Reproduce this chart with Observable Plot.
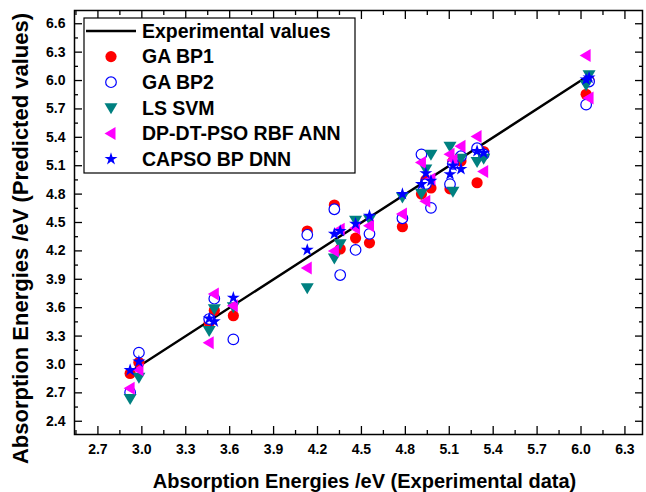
<!DOCTYPE html>
<html><head><meta charset="utf-8">
<script src="https://cdn.jsdelivr.net/npm/d3@7"></script>
<script src="https://cdn.jsdelivr.net/npm/@observablehq/plot@0.6"></script>
<style>body{margin:0;background:#fff;} #chart{width:646px;height:492px;}</style>
</head><body><div id="chart"></div>
<script>
// Experimental absorption energies (eV) and model predictions
const experimental = [2.92, 2.98, 3.46, 3.495, 3.625, 4.13, 4.315, 4.355, 4.46, 4.555, 4.78, 4.91, 4.94, 4.975, 5.105, 5.125, 5.18, 5.29, 5.335, 6.035, 6.055];
const gaBP1  = [2.905, 3.02, 3.44, 3.57, 3.515, 4.41, 4.685, 4.22, 4.335, 4.285, 4.455, 4.80, 4.95, 4.865, 4.855, 5.145, 5.15, 4.92, 5.25, 5.855, 6.00];
const gaBP2  = [2.705, 3.125, 3.48, 3.695, 3.265, 4.37, 4.64, 3.945, 4.21, 4.38, 4.545, 5.22, 4.905, 4.655, 4.905, 5.12, 5.20, 5.285, 5.22, 5.745, 5.99];
const lsSVM  = [2.64, 2.865, 3.36, 3.59, 3.61, 3.81, 4.125, 4.275, 4.525, 4.535, 4.77, 4.81, 5.065, 5.22, 5.305, 4.83, 5.18, 5.145, 5.18, 5.955, 6.06];
const dpRBF  = [2.75, 2.945, 3.23, 3.745, 3.62, 4.02, 4.20, 4.43, 4.44, 4.465, 4.59, 5.135, 4.725, 4.96, 5.22, 5.16, 5.305, 5.41, 5.04, 6.265, 5.815];
const capso  = [2.94, 3.03, 3.485, 3.455, 3.705, 4.21, 4.38, 4.41, 4.485, 4.57, 4.80, 4.905, 5.02, 4.94, 5.01, 5.10, 5.065, 5.255, 5.235, 6.01, 6.03];
const xTicks = [2.7, 3.0, 3.3, 3.6, 3.9, 4.2, 4.5, 4.8, 5.1, 5.4, 5.7, 6.0, 6.3];
const yTicks = [2.4, 2.7, 3.0, 3.3, 3.6, 3.9, 4.2, 4.5, 4.8, 5.1, 5.4, 5.7, 6.0, 6.3, 6.6];
const seriesNames = ["Experimental values", "GA BP1", "GA BP2", "LS SVM", "DP-DT-PSO RBF ANN", "CAPSO BP DNN"];

const xDomain = [2.54, 6.42];
const yDomain = [2.26, 6.74];
const xMinor = xTicks.map(t => t - 0.15).concat([6.45]).filter(t => t > xDomain[0] && t < xDomain[1]);
const yMinor = yTicks.map(t => t - 0.15).concat([6.75]).filter(t => t > yDomain[0] && t < yDomain[1]);

const downTri = {draw(ctx) { ctx.moveTo(-6.5, -4.5); ctx.lineTo(6.5, -4.5); ctx.lineTo(0, 6.5); ctx.closePath(); }};
const leftTri = {draw(ctx) { ctx.moveTo(-6.5, 0); ctx.lineTo(4.5, -6.5); ctx.lineTo(4.5, 6.5); ctx.closePath(); }};
const star5 = {draw(ctx) { d3.symbolStar.draw(ctx, 52); }};

const idx = d3.range(experimental.length);
const expLine = [d3.min(experimental), d3.max(experimental)];
const font = "'Liberation Sans', Arial, sans-serif";

const plot = Plot.plot({
  width: 646, height: 492,
  marginLeft: 74, marginRight: 4, marginTop: 10, marginBottom: 58,
  style: {fontFamily: font, fontWeight: "bold", fontSize: "14px", background: "white", overflow: "visible"},
  x: {domain: xDomain},
  y: {domain: yDomain},
  marks: [
    Plot.line(expLine, {x: d => d, y: d => d, stroke: "black", strokeWidth: 2.4}),
    Plot.dot(idx, {x: i => experimental[i], y: i => gaBP1[i], r: 5.6, symbol: "circle", fill: "#ff0000"}),
    Plot.dot(idx, {x: i => experimental[i], y: i => gaBP2[i], r: 5.3, symbol: "circle", fill: "white", stroke: "#0000ff", strokeWidth: 1.2}),
    Plot.dot(idx, {x: i => experimental[i], y: i => lsSVM[i], r: 6, symbol: downTri, fill: "#008080"}),
    Plot.dot(idx, {x: i => experimental[i], y: i => dpRBF[i], r: 6, symbol: leftTri, fill: "#ff00ff"}),
    Plot.dot(idx, {x: i => experimental[i], y: i => capso[i], r: 6, symbol: star5, fill: "#0000ff"}),
    Plot.frame({stroke: "black", strokeWidth: 1.5}),
    // inward ticks
    Plot.axisX({anchor: "bottom", ticks: xTicks, tickSize: 8, dy: -8, tickFormat: () => "", label: null, strokeWidth: 1.3}),
    Plot.axisX({anchor: "bottom", ticks: xMinor, tickSize: 4, dy: -4, tickFormat: () => "", label: null, strokeWidth: 1.3}),
    Plot.axisX({anchor: "top", ticks: xTicks, tickSize: 8, dy: 8, tickFormat: () => "", label: null, strokeWidth: 1.3}),
    Plot.axisX({anchor: "top", ticks: xMinor, tickSize: 4, dy: 4, tickFormat: () => "", label: null, strokeWidth: 1.3}),
    Plot.axisY({anchor: "left", ticks: yTicks, tickSize: 8, dx: 8, tickFormat: () => "", label: null, strokeWidth: 1.3}),
    Plot.axisY({anchor: "left", ticks: yMinor, tickSize: 4, dx: 4, tickFormat: () => "", label: null, strokeWidth: 1.3}),
    Plot.axisY({anchor: "right", ticks: yTicks, tickSize: 8, dx: -8, tickFormat: () => "", label: null, strokeWidth: 1.3}),
    Plot.axisY({anchor: "right", ticks: yMinor, tickSize: 4, dx: -4, tickFormat: () => "", label: null, strokeWidth: 1.3}),
    // tick labels
    Plot.axisX({anchor: "bottom", ticks: xTicks, tickSize: 0, tickPadding: 10, tickFormat: d3.format(".1f"), label: null, fontSize: 14, fontWeight: "bold"}),
    Plot.axisY({anchor: "left", ticks: yTicks, tickSize: 0, tickPadding: 9, tickFormat: d3.format(".1f"), label: null, fontSize: 14, fontWeight: "bold"}),
    // axis titles
    Plot.text(["Absorption Energies /eV (Experimental data)"], {frameAnchor: "bottom", dy: 47, dx: 6, text: d => d, fontSize: 20, fontWeight: "bold", textAnchor: "middle", lineAnchor: "middle", fill: "black"}),
    Plot.text(["Absorption Energies /eV (Predicted values)"], {frameAnchor: "left", dx: -54, dy: 16, rotate: -90, text: d => d, fontSize: 22, fontWeight: "bold", textAnchor: "middle", lineAnchor: "middle", fill: "black"})
  ]
});

// Legend (inside the frame, top-left)
const svg = d3.select(plot);
const lg = svg.append("g").attr("font-family", font).attr("font-weight", "bold").attr("font-size", 19.5).attr("text-anchor", "start");
lg.append("rect").attr("x", 84).attr("y", 18).attr("width", 271).attr("height", 155)
  .attr("fill", "white").attr("stroke", "black").attr("stroke-width", 1.2);
const rowY = i => 31 + i * 25.6;
lg.append("line").attr("x1", 86).attr("x2", 136).attr("y1", rowY(0)).attr("y2", rowY(0)).attr("stroke", "black").attr("stroke-width", 2.4);
lg.append("circle").attr("cx", 111).attr("cy", rowY(1)).attr("r", 5.6).attr("fill", "#ff0000");
lg.append("circle").attr("cx", 111).attr("cy", rowY(2)).attr("r", 5.3).attr("fill", "white").attr("stroke", "#0000ff").attr("stroke-width", 1.2);
lg.append("path").attr("transform", `translate(111,${rowY(3)})`).attr("d", d3.symbol(downTri)()).attr("fill", "#008080");
lg.append("path").attr("transform", `translate(111,${rowY(4)})`).attr("d", d3.symbol(leftTri)()).attr("fill", "#ff00ff");
lg.append("path").attr("transform", `translate(111,${rowY(5)})`).attr("d", d3.symbol(star5)()).attr("fill", "#0000ff");
seriesNames.forEach((name, i) => {
  lg.append("text").attr("x", 142).attr("y", rowY(i)).attr("dy", "0.35em").attr("text-anchor", "start").attr("fill", "black").text(name);
});

document.getElementById("chart").appendChild(plot);
</script>
</body></html>
